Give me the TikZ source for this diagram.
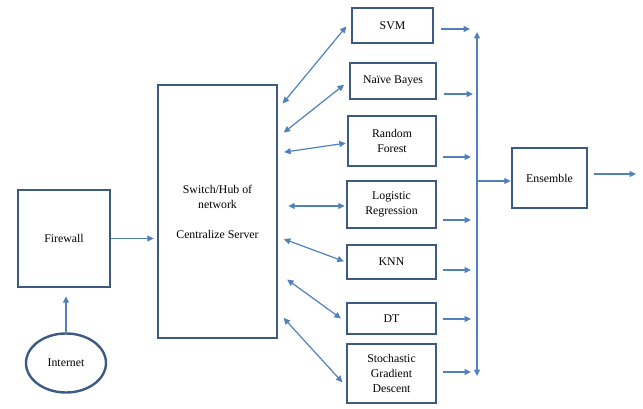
\documentclass[tikz,border=0pt]{standalone}
\usepackage{fontspec}
\setmainfont{Liberation Serif}
\usetikzlibrary{arrows.meta,shapes.geometric}

\definecolor{boxblue}{RGB}{60,90,132}
\definecolor{lineblue}{RGB}{79,129,189}

\tikzset{
  box/.style={draw=boxblue, line width=2.4pt, align=center, inner sep=2pt,
    font=\fontsize{11.8}{15}\selectfont},
  conn/.style={draw=lineblue, line width=1.2pt, -{Triangle[length=6.5pt,width=6pt]}},
  dbl/.style={conn, {Triangle[length=6.5pt,width=6pt]}-{Triangle[length=6.5pt,width=6pt]}},
}

\begin{document}
\begin{tikzpicture}[x=1pt,y=-1pt]
\useasboundingbox (0,0) rectangle (643,409);

% Input side
\node[box, minimum width=92, minimum height=97] (fw) at (64,238.5) {Firewall};
\node[box, ellipse, minimum width=80, minimum height=59] (inet) at (66,363) {Internet};
\node[box, minimum width=119, minimum height=253] (srv) at (217.5,211.5)
  {Switch/Hub of\\network\\[15pt]Centralize Server};

% Classifiers
\node[box, minimum width=81, minimum height=35] (svm) at (392.5,25.5) {SVM};
\node[box, minimum width=86, minimum height=36] (nb) at (393,81) {Naïve Bayes};
\node[box, minimum width=88, minimum height=50] (rf) at (392,141) {Random\\Forest};
\node[box, minimum width=89, minimum height=47] (lr) at (391.5,204.5) {Logistic\\Regression};
\node[box, minimum width=89, minimum height=34] (knn) at (391.5,262) {KNN};
\node[box, minimum width=89, minimum height=31] (dt) at (391.5,318.5) {DT};
\node[box, minimum width=89, minimum height=59] (sgd) at (391.5,373.5) {Stochastic\\Gradient\\Descent};

% Output side
\node[box, minimum width=75, minimum height=60] (ens) at (549.5,178) {Ensemble};
\coordinate (bustop) at (477,32);
\coordinate (busbot) at (477,376);
\coordinate (out) at (636,174);

% Input connectors
\draw[conn, shorten >=8pt] (inet.north) -- (inet.north |- fw.south);
\draw[conn, shorten >=3pt] (fw.east) -- (fw.east -| srv.west);

% Server <-> classifiers
\draw[dbl, shorten <=7pt, shorten >=7pt] (srv.east |- 0,109) -- (svm.west |- 0,21);
\draw[dbl, shorten <=7pt, shorten >=6pt] (srv.east |- 0,137) -- (nb.west);
\draw[dbl, shorten <=6pt, shorten >=1pt] (srv.east |- 0,153) -- (rf.west |- 0,143);
\draw[dbl, shorten <=10pt, shorten >=1pt] (srv.east |- 0,206) -- (lr.west |- 0,206);
\draw[dbl, shorten <=6pt, shorten >=2pt] (srv.east |- 0,237) -- (knn.west);
\draw[dbl, shorten <=11pt, shorten >=6pt] (srv.east |- 0,273) -- (dt.west |- 0,322);
\draw[dbl, shorten <=8pt, shorten >=5pt] (srv.east |- 0,312) -- (sgd.west |- 0,386);

% Classifiers -> bus
\draw[conn, shorten <=7pt, shorten >=7pt] (svm.east |- 0,29) -- (bustop |- 0,29);
\draw[conn, shorten <=7pt, shorten >=4pt] (nb.east |- 0,94) -- (bustop |- 0,94);
\draw[conn, shorten <=6pt, shorten >=6pt] (rf.east |- 0,157) -- (bustop |- 0,157);
\draw[conn, shorten <=6pt, shorten >=6pt] (lr.east |- 0,220) -- (bustop |- 0,220);
\draw[conn, shorten <=6pt, shorten >=6pt] (knn.east |- 0,270) -- (bustop |- 0,270);
\draw[conn, shorten <=6pt, shorten >=6pt] (dt.east |- 0,319) -- (bustop |- 0,319);
\draw[conn, shorten <=6pt, shorten >=6pt] (sgd.east |- 0,372) -- (bustop |- 0,372);
\draw[dbl] (bustop) -- (busbot);

% Ensemble
\draw[conn] (bustop |- 0,181) -- (ens.west |- 0,181);
\draw[conn, shorten <=6pt] (ens.east |- out) -- (out);
\end{tikzpicture}
\end{document}
